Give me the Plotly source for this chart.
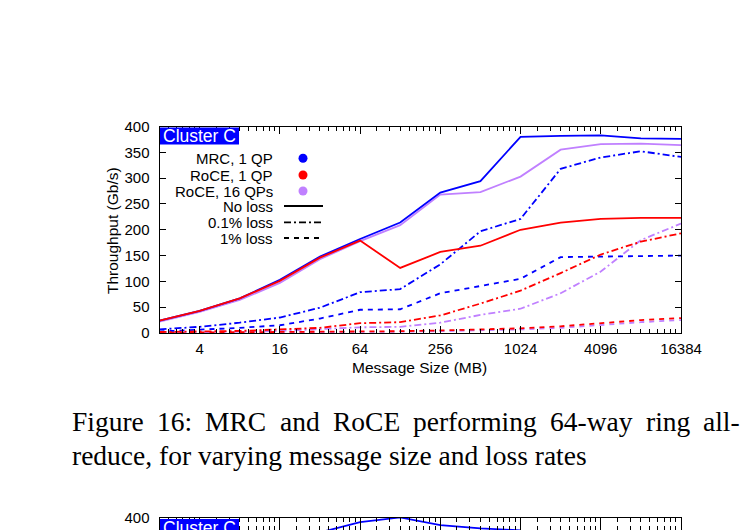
import math
import plotly.graph_objects as go

# ---------------- data ----------------
msg_sizes = [2, 4, 8, 16, 32, 64, 128, 256, 512, 1024, 2048, 4096, 8192, 16384]
tick_vals = [4, 16, 64, 256, 1024, 4096, 16384]
tick_text = ["4", "16", "64", "256", "1024", "4096", "16384"]

mrc_noloss = [24, 43, 67, 103, 148, 182, 214, 272, 294, 380, 382, 383, 377, 376]
mrc_01 = [7, 12, 20, 30, 49, 79, 85, 133, 197, 221, 318, 340, 352, 341]
mrc_1 = [3, 6, 10, 15, 28, 45, 46, 77, 91, 105, 147, 148, 150, 150]

roce1_noloss = [24, 43, 67, 101, 146, 179, 126, 157, 169, 200, 214, 221, 223, 223]
roce1_01 = [2, 3, 4, 7, 10, 19, 21, 34, 57, 82, 116, 152, 177, 193]
roce1_1 = [0.5, 0.8, 1, 1.5, 2, 3, 3.5, 5, 7, 9, 13, 19, 25, 29]

roce16_noloss = [22, 41, 64, 97, 143, 178, 209, 268, 273, 303, 355, 366, 367, 364]
roce16_01 = [1, 1.5, 2.5, 4, 7, 11, 12, 20, 35, 47, 77, 119, 180, 212]
roce16_1 = [0.3, 0.5, 0.7, 1, 1.5, 2, 2.5, 3.5, 5, 7, 10, 16, 21, 25]

# partially visible next figure (top strip only)
next_sizes = [32, 64, 128, 256, 512, 1024]
next_mrc = [372, 392, 401, 386, 380, 376]

legend_series = ["MRC, 1 QP", "RoCE, 1 QP", "RoCE, 16 QPs"]
legend_styles = ["No loss", "0.1% loss", "1% loss"]

caption_line1 = ["Figure", "16:", "MRC", "and", "RoCE", "performing", "64-way", "ring", "all-"]
caption_line2 = "reduce, for varying message size and loss rates"

# ---------------- style ----------------
W, H = 740, 530
BLUE = "#0000ff"
RED = "#ff0000"
PURPLE = "#c080ff"
DASH = {"solid": "solid", "dashdot": "7px,3px,2px,3px", "dash": "5px,5px"}
LW = 1.8
SANS = "Liberation Sans, Arial, sans-serif"
SERIF = "Liberation Serif, Times New Roman, serif"

PL, PR, PT, PB = 159.5, 681.0, 126.5, 333.0


def px(x):
    return x / W


def py(y):
    return 1 - y / H


fig = go.Figure()

series = [
    (roce16_noloss, PURPLE, "solid"), (roce16_01, PURPLE, "dashdot"), (roce16_1, PURPLE, "dash"),
    (mrc_noloss, BLUE, "solid"), (mrc_01, BLUE, "dashdot"), (mrc_1, BLUE, "dash"),
    (roce1_noloss, RED, "solid"), (roce1_01, RED, "dashdot"), (roce1_1, RED, "dash"),
]
for vals, col, d in series:
    fig.add_trace(go.Scatter(x=msg_sizes, y=vals, mode="lines",
                             line=dict(color=col, width=LW, dash=DASH[d]),
                             showlegend=False, xaxis="x", yaxis="y"))

fig.add_trace(go.Scatter(x=next_sizes, y=next_mrc, mode="lines",
                         line=dict(color=BLUE, width=LW),
                         showlegend=False, xaxis="x2", yaxis="y2"))

# minor ticks: linear steps of major/3 between factor-4 majors
minor_vals = []
for m in [1, 4, 16, 64, 256, 1024, 4096]:
    for k in range(4, 12):
        v = m * k / 3
        if 2 <= v <= 16384:
            minor_vals.append(v)

xr = [math.log10(2), math.log10(16384)]
common_x = dict(type="log", range=xr, tickmode="array", tickvals=tick_vals,
                ticks="inside", ticklen=7, tickwidth=1, tickcolor="black",
                showline=True, linecolor="black", linewidth=1, mirror="allticks",
                showgrid=False, zeroline=False,
                tickfont=dict(family=SANS, size=15, color="black"),
                minor=dict(tickmode="array", tickvals=minor_vals, ticks="inside",
                           ticklen=4, tickcolor="black", showgrid=False))

fig.update_layout(
    width=W, height=H, margin=dict(l=0, r=0, t=0, b=0, autoexpand=False),
    paper_bgcolor="white", plot_bgcolor="white", showlegend=False,
    xaxis=dict(domain=[px(PL), px(PR)], anchor="y", ticktext=tick_text,
               ticklabelstandoff=2, **common_x),
    yaxis=dict(domain=[py(PB), py(PT)], anchor="x", range=[0, 400], dtick=50,
               ticks="inside", ticklen=6, tickcolor="black",
               showline=True, linecolor="black", linewidth=1, mirror="allticks",
               showgrid=False, zeroline=False, ticklabelstandoff=6,
               tickfont=dict(family=SANS, size=15, color="black")),
    xaxis2=dict(domain=[px(PL), px(PR)], anchor="y2", ticktext=[""] * len(tick_vals),
                **common_x),
    yaxis2=dict(domain=[0, py(518)], anchor="x2",
                range=[400 - (530 - 518) / ((PB - PT) / 400), 400], dtick=50,
                ticks="inside", ticklen=6, tickcolor="black",
                showline=True, linecolor="black", linewidth=1, mirror="allticks",
                showgrid=False, zeroline=False, ticklabelstandoff=6,
                tickfont=dict(family=SANS, size=15, color="black")),
)

shapes = []
annotations = []

# Cluster C labels
for (y0, y1) in [(127.5, 144.5), (519, 536)]:
    shapes.append(dict(type="rect", xref="paper", yref="paper",
                       x0=px(160), x1=px(239), y0=py(y1), y1=py(y0),
                       fillcolor=BLUE, line=dict(width=0), layer="above"))
    annotations.append(dict(text="Cluster C", x=px(199.5), y=py((y0 + y1) / 2),
                            xref="paper", yref="paper", showarrow=False,
                            xanchor="center", yanchor="middle",
                            font=dict(family=SANS, size=17.5, color="white")))

# legend
rows = [158.3, 175, 191, 206, 222.3, 238]
for i, name in enumerate(legend_series):
    annotations.append(dict(text=name, x=px(275), y=py(rows[i]), xref="paper", yref="paper",
                            showarrow=False, xanchor="right", yanchor="middle",
                            font=dict(family=SANS, size=15, color="black")))
    col = [BLUE, RED, PURPLE][i]
    shapes.append(dict(type="circle", xref="paper", yref="paper",
                       xsizemode="pixel", ysizemode="pixel",
                       xanchor=px(303), yanchor=py(rows[i]),
                       x0=-4.5, x1=4.5, y0=-4.5, y1=4.5,
                       fillcolor=col, line=dict(width=0)))
for j, name in enumerate(legend_styles):
    r = rows[3 + j]
    annotations.append(dict(text=name, x=px(275), y=py(r), xref="paper", yref="paper",
                            showarrow=False, xanchor="right", yanchor="middle",
                            font=dict(family=SANS, size=15, color="black")))
    shapes.append(dict(type="line", xref="paper", yref="paper",
                       x0=px(284), x1=px(323), y0=py(r), y1=py(r),
                       line=dict(color="black", width=LW,
                                 dash=DASH[["solid", "dashdot", "dash"][j]])))

# axis titles
annotations.append(dict(text="Message Size (MB)", x=px(419), y=py(367), xref="paper", yref="paper",
                        showarrow=False, xanchor="center", yanchor="middle",
                        font=dict(family=SANS, size=15.5, color="black")))
annotations.append(dict(text="Throughput (Gb/s)", x=px(112), y=py(231), xref="paper", yref="paper",
                        showarrow=False, xanchor="center", yanchor="middle", textangle=-90,
                        font=dict(family=SANS, size=15.5, color="black")))

# caption (justified first line)
cap_size = 27.5
word_x = [70, 155, 203.3, 277.6, 330.5, 410.9, 547.8, 643.5, 701]
for w, x in zip(caption_line1, word_x):
    annotations.append(dict(text=w, x=px(x), y=py(421), xref="paper", yref="paper",
                            showarrow=False, xanchor="left", yanchor="middle",
                            font=dict(family=SERIF, size=cap_size, color="black")))
annotations.append(dict(text=caption_line2, x=px(70), y=py(455), xref="paper", yref="paper",
                        showarrow=False, xanchor="left", yanchor="middle",
                        font=dict(family=SERIF, size=cap_size, color="black")))

fig.update_layout(shapes=shapes, annotations=annotations)
fig.write_html("out.html",
               post_script="document.body.style.margin='0';document.body.style.overflow='hidden';")
